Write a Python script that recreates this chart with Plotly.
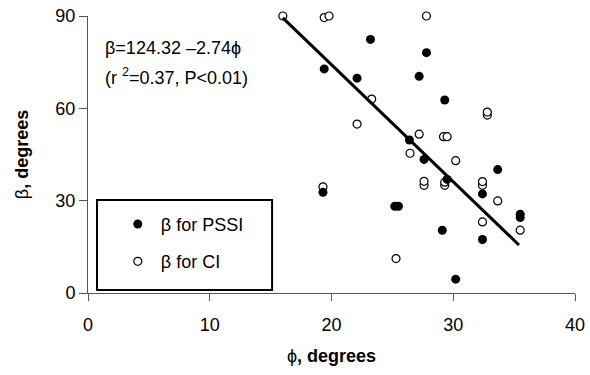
import plotly.graph_objects as go

# PSSI (filled) points
pssi_phi = [19.4, 22.1, 23.2, 27.8, 27.2, 29.3, 26.4, 27.6, 29.5, 19.3, 25.2, 25.5,
            33.65, 32.4, 35.5, 35.5, 29.1, 32.4, 30.2]
pssi_beta = [72.8, 69.8, 82.4, 78.1, 70.4, 62.7, 49.7, 43.4, 36.9, 32.7, 28.2, 28.2,
             40.1, 32.2, 25.6, 24.5, 20.4, 17.4, 4.5]

# CI (open) points
ci_phi = [16.0, 19.4, 19.8, 27.8, 23.3, 22.1, 27.2, 29.2, 29.5, 32.8, 32.8, 26.45,
          30.2, 27.6, 27.6, 29.3, 29.3, 32.4, 32.4, 19.3, 33.65, 32.4, 35.5, 25.3]
ci_beta = [90.0, 89.5, 90.0, 90.0, 63.0, 54.9, 51.6, 50.8, 50.8, 57.8, 58.8, 45.4,
           43.0, 35.0, 36.3, 35.0, 36.0, 35.0, 36.2, 34.5, 29.9, 23.1, 20.4, 11.2]

# regression line as drawn
line_phi = [16.0, 35.4]
line_beta = [89.4, 15.6]

x_ticks = [0, 10, 20, 30, 40]
y_ticks = [0, 30, 60, 90]

FONT = "Arial, Liberation Sans, sans-serif"
FS = 18

fig = go.Figure()
fig.add_trace(go.Scatter(x=ci_phi, y=ci_beta, mode="markers", name="β for CI",
                         legendrank=2, legendgroup="ci", cliponaxis=False,
                         marker=dict(symbol="circle", size=8, color="white",
                                     line=dict(color="black", width=1.2))))
fig.add_trace(go.Scatter(x=pssi_phi, y=pssi_beta, mode="markers", name="β for PSSI",
                         legendrank=1, legendgroup="pssi", cliponaxis=False,
                         marker=dict(symbol="circle", size=9, color="black",
                                     line=dict(color="black", width=0))))
fig.add_trace(go.Scatter(x=line_phi, y=line_beta, mode="lines", showlegend=False,
                         cliponaxis=False,
                         line=dict(color="black", width=3)))

fig.update_layout(
    width=590, height=375,
    margin=dict(l=88, r=15, t=16, b=82, autoexpand=False),
    paper_bgcolor="white", plot_bgcolor="white",
    font=dict(family=FONT, size=FS, color="black"),
    showlegend=True,
    legend=dict(x=0.055, y=0.315, xanchor="left", yanchor="top",
                bgcolor="rgba(0,0,0,0)", borderwidth=0, itemwidth=36,
                traceorder="grouped", tracegroupgap=11,
                font=dict(family=FONT, size=FS, color="black")),
    xaxis=dict(range=[0, 40], tickvals=x_ticks, showgrid=False, zeroline=False,
               showline=True, linecolor="#555", linewidth=1, automargin=False,
               ticks="outside", ticklen=7, tickcolor="#555", ticklabelstandoff=8,
               tickfont=dict(family=FONT, size=FS),
               title=dict(text="ϕ<b>, degrees</b>", standoff=15,
                          font=dict(family=FONT, size=FS))),
    yaxis=dict(range=[0, 90], tickvals=y_ticks, showgrid=False, zeroline=False,
               showline=True, linecolor="#555", linewidth=1, automargin=False,
               ticks="outside", ticklen=8, tickcolor="#555",
               tickfont=dict(family=FONT, size=FS),
               title=dict(text="β<b>, degrees</b>", standoff=22,
                          font=dict(family=FONT, size=FS))),
    shapes=[dict(type="rect", xref="paper", yref="paper",
                 x0=0.0185, x1=0.378, y0=0.011, y1=0.336,
                 line=dict(color="black", width=2), fillcolor="rgba(0,0,0,0)")],
    annotations=[
        dict(text="β=124.32 –2.74ϕ", xref="paper", yref="paper",
             x=(103 - 88) / 487, y=(293 - 48) / 277, xanchor="left", yanchor="middle",
             showarrow=False, font=dict(family=FONT, size=FS)),
        dict(text="(r <sup>2</sup>=0.37, P&lt;0.01)", xref="paper", yref="paper",
             x=(103 - 88) / 487, y=(293 - 76) / 277, xanchor="left", yanchor="middle",
             showarrow=False, font=dict(family=FONT, size=FS)),
    ],
)

fig.write_html("out.html")
